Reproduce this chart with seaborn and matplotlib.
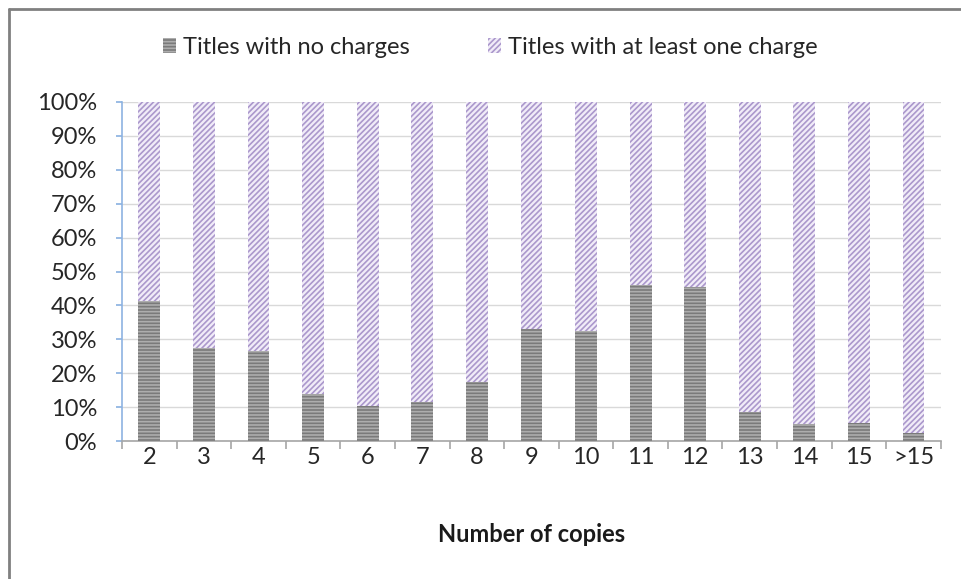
import matplotlib
matplotlib.use("Agg")
import matplotlib.pyplot as plt
from matplotlib.lines import Line2D
from matplotlib.patches import Patch
from matplotlib.ticker import PercentFormatter, FixedLocator
import pandas as pd
import seaborn as sns

copies = ["2", "3", "4", "5", "6", "7", "8", "9", "10", "11", "12", "13", "14", "15", ">15"]
no_charges = [41.3, 27.5, 26.5, 14.0, 10.5, 11.5, 17.5, 33.0, 32.5, 46.0, 45.5, 8.5, 5.0, 5.5, 2.5]
with_charge = [100 - v for v in no_charges]

GRAY = "#7a7a7a"
GRAY_HATCH = "#adadad"
PURPLE = "#ab98cc"

sns.set_theme(style="white")
plt.rcParams["font.family"] = ["Lato", "DejaVu Sans"]
plt.rcParams["hatch.linewidth"] = 1.2

df = pd.DataFrame({
    "copies": copies,
    "no_charges": no_charges,
    "total": [a + b for a, b in zip(no_charges, with_charge)],
})

fig = plt.figure(figsize=(9.61, 5.79), dpi=100)
ax = fig.add_axes([0.127, 0.238, 0.852, 0.586])

# full stack first, then the no-charge part drawn over it
sns.barplot(data=df, x="copies", y="total", order=copies, color="white",
            width=0.4, ax=ax, zorder=2)
n = len(ax.patches)
sns.barplot(data=df, x="copies", y="no_charges", order=copies, color=GRAY,
            width=0.4, ax=ax, zorder=3)

for i, p in enumerate(ax.patches):
    if i < n:
        p.set_facecolor("#f1ecf8")
        p.set_edgecolor(PURPLE)
        p.set_hatch("//////")
    else:
        p.set_facecolor(GRAY)
        p.set_edgecolor(GRAY_HATCH)
        p.set_hatch("-----")
    p.set_linewidth(0)

ax.set_ylim(0, 100)
ax.set_xlim(-0.5, len(copies) - 0.5)
ax.set_yticks(range(0, 101, 10))
ax.yaxis.set_major_formatter(PercentFormatter(decimals=0))
ax.yaxis.grid(True, color="#d9d9d9", linewidth=1)
ax.set_axisbelow(True)

for s in ["top", "right"]:
    ax.spines[s].set_visible(False)
ax.spines["left"].set_color("#8db3e2")
ax.spines["left"].set_linewidth(1.2)
ax.spines["bottom"].set_color("#a6a6a6")
ax.spines["bottom"].set_linewidth(1.2)

ax.tick_params(axis="y", length=4, color="#8db3e2", labelsize=17, pad=14,
               labelcolor="#262626", left=True)
ax.tick_params(axis="x", which="major", length=0, labelsize=17, pad=4,
               labelcolor="#262626")
ax.xaxis.set_minor_locator(FixedLocator([i - 0.5 for i in range(len(copies) + 1)]))
ax.tick_params(axis="x", which="minor", length=6, color="#a6a6a6", width=1.2,
               bottom=True)

ax.set_xlabel("Number of copies", fontsize=17, fontweight="bold", labelpad=40,
              color="#1a1a1a")
ax.set_ylabel("")

handles = [
    Patch(facecolor=GRAY, edgecolor=GRAY_HATCH, hatch="-----", linewidth=0,
          label="Titles with no charges"),
    Patch(facecolor="#f1ecf8", edgecolor=PURPLE, hatch="//////", linewidth=0,
          label="Titles with at least one charge"),
]
fig.legend(handles=handles, loc="center", bbox_to_anchor=(0.51, 0.918), ncol=2,
           frameon=False, fontsize=17, handlelength=0.55, handleheight=0.6,
           handletextpad=0.3, columnspacing=3.3, labelcolor="#262626")

# chart-area border: only top and left edges visible in the crop
fig.add_artist(Line2D([9 / 961, 9 / 961], [0, 1 - 9 / 579], transform=fig.transFigure,
                      color="#808080", linewidth=2))
fig.add_artist(Line2D([9 / 961, 1], [1 - 9 / 579, 1 - 9 / 579], transform=fig.transFigure,
                      color="#808080", linewidth=2))

fig.savefig("out.png", dpi=100)
